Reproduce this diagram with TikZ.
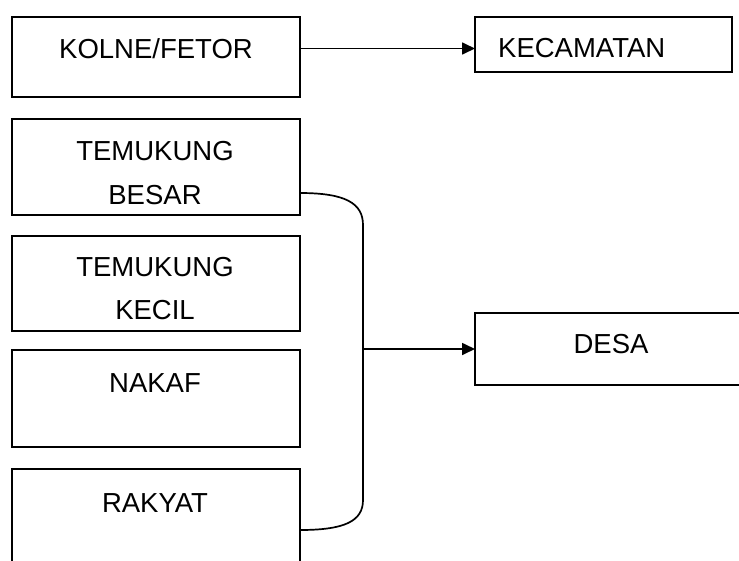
\documentclass[tikz,border=0pt]{standalone}
\usepackage{fontspec}
\setmainfont{Liberation Sans}
\usetikzlibrary{arrows.meta}
\begin{document}
\begin{tikzpicture}[x=1pt,y=-1pt,
  box/.style={draw=black,line width=1.5pt,rectangle,inner sep=0pt,outer sep=0pt,anchor=north west},
  txt/.style={inner sep=0pt,font=\fontsize{27.5}{33}\selectfont},
  conn/.style={draw=black,line width=1.7pt},
  arr/.style={conn,-{Triangle[length=13pt,width=12pt]}}]
\useasboundingbox (0,0) rectangle (739,560);
% boxes
\node[box,minimum width=288pt,minimum height=80pt] (kolne) at (12,17) {};
\node[box,minimum width=257pt,minimum height=55pt] (kec) at (475,17) {};
\node[box,minimum width=288pt,minimum height=96pt] (besar) at (12,119) {};
\node[box,minimum width=288pt,minimum height=95pt] (kecil) at (12,236) {};
\node[box,minimum width=288pt,minimum height=97pt] (nakaf) at (12,350) {};
\node[box,minimum width=288pt,minimum height=111pt] (rakyat) at (12,469) {};
\node[box,minimum width=280pt,minimum height=72pt] (desa) at (475,313) {};
% texts
\node[txt,anchor=base] (t1) at (156,58) {KOLNE/FETOR};
\node[txt,anchor=base west] (t2) at (498,57) {KECAMATAN};
\node[txt,anchor=base] (t3) at (155,160) {TEMUKUNG};
\node[txt,anchor=base] (t4) at (155,204) {BESAR};
\node[txt,anchor=base] (t5) at (155,276) {TEMUKUNG};
\node[txt,anchor=base] (t6) at (155,319) {KECIL};
\node[txt,anchor=base] (t7) at (155,392) {NAKAF};
\node[txt,anchor=base] (t8) at (155,512) {RAKYAT};
\node[txt,anchor=base] (t9) at (611,353) {DESA};
% connectors
\coordinate (kecin) at ([yshift=-4pt]kec.west);
\draw[arr] (kolne.east |- kecin) -- (kecin);
\coordinate (spine) at (363,0);
\coordinate (bstart) at ([yshift=22pt]besar.south east);
\coordinate (rend) at ([yshift=-61pt]rakyat.north east);
\draw[conn] (bstart) .. controls (345,193) and (363,203) .. (363,225)
  -- (363,500) .. controls (363,521) and (345,530) .. (rend);
\draw[arr] (desa.west -| spine) -- (desa.west);
\end{tikzpicture}
\end{document}
